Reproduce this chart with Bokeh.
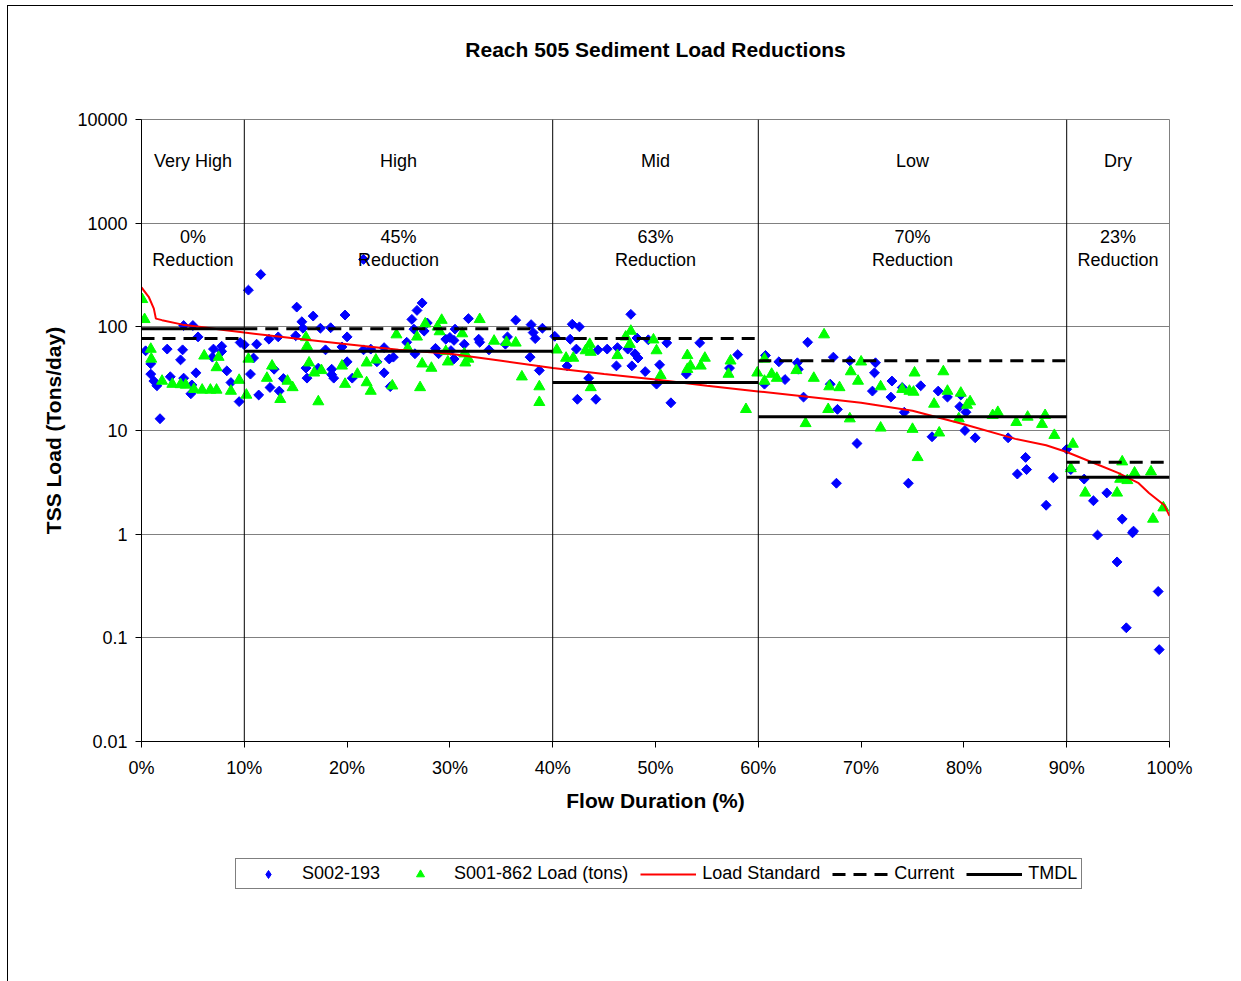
from bokeh.plotting import figure
from bokeh.layouts import column
from bokeh.models import (FixedTicker, Span, Legend, LegendItem, Range1d, CustomJSTickFormatter)
from bokeh.embed import file_html
from bokeh.resources import INLINE
from bokeh.core.properties import value
import math

FONT = "Liberation Sans"

# ---------------- data ----------------
title = "Reach 505 Sediment Load Reductions"
x_label = "Flow Duration (%)"
y_label = "TSS Load (Tons/day)"

x_ticks = [0, 10, 20, 30, 40, 50, 60, 70, 80, 90, 100]
x_tick_labels = ["0%", "10%", "20%", "30%", "40%", "50%", "60%", "70%", "80%", "90%", "100%"]
y_ticks = [0.01, 0.1, 1, 10, 100, 1000, 10000]
y_tick_labels = ["0.01", "0.1", "1", "10", "100", "1000", "10000"]

zone_names = ["Very High", "High", "Mid", "Low", "Dry"]
zone_start = [0, 10, 40, 60, 90]
zone_end = [10, 40, 60, 90, 100]
reductions = [0, 45, 63, 70, 23]
current_load = [77, 96, 77, 47, 4.95]
tmdl_load = [96, 58, 29, 13.6, 3.55]

std_x = [0, 0.7, 1.2, 1.4, 2, 4, 6, 8, 10, 15, 20, 25, 30, 35, 40, 45, 50, 55, 60,
         65, 70, 75, 80, 85, 88, 90, 93, 95, 97, 98, 99.5, 100]
std_y = [240, 195, 150, 120, 116, 105, 99, 93, 88, 77, 68, 60, 55, 47, 40, 35, 31, 27, 23.8,
         21, 18.5, 15.5, 11.5, 8.3, 7.2, 6.2, 4.7, 3.9, 3.1, 2.5, 1.9, 1.5]

s002_x = [0.4, 0.9, 0.9, 1.2, 1.5, 1.8, 2.5, 2.8, 3.8, 4.0, 4.1, 4.1, 4.8, 4.9, 5.0, 5.3, 5.5,
          6.9, 7.0, 7.8, 7.8, 8.3, 8.7, 9.5, 9.6,
          10.0, 10.4, 10.6, 10.9, 11.2, 11.4, 11.6, 12.4, 12.5, 12.9, 13.3, 13.4, 13.8, 15.0,
          15.1, 15.6, 15.7, 16.0, 16.1, 16.7, 17.2, 17.4, 17.9, 18.4, 18.5, 18.5, 18.7, 19.5,
          19.8, 20.0, 20.0, 20.5, 21.6, 21.6, 22.3, 22.9, 23.6, 23.6, 24.1, 24.2, 24.5, 25.8,
          26.3, 26.5, 26.6, 26.8, 27.3, 27.5, 27.8, 28.6, 28.9, 29.6, 30.0, 30.1, 30.4, 30.4,
          30.5, 31.4, 31.8, 32.8, 32.9, 33.8, 35.4, 35.6, 36.4, 37.8, 37.9, 38.1, 38.3, 38.7,
          39.0,
          40.2, 41.4, 41.7, 41.9, 42.3, 42.4, 42.6, 43.5, 44.2, 44.4, 45.3, 46.2, 46.3, 47.3,
          47.6, 47.7, 48.0, 48.2, 48.3, 49.0, 49.3, 50.1, 50.4, 51.1, 51.5, 53.0, 54.3, 57.2,
          58.0,
          60.6, 60.7, 62.0, 62.6, 63.8, 63.9, 64.4, 64.8, 67.0, 67.3, 67.6, 67.7, 68.9, 69.6,
          71.1, 71.3, 71.4, 72.9, 73.0, 74.0, 74.2, 74.6, 75.8, 76.9, 77.5, 78.4, 79.6, 79.7,
          80.1, 80.2, 81.1, 84.3, 85.2, 86.0, 86.1, 88.0, 88.7,
          90.0, 90.4, 91.7, 92.6, 93.0, 93.9, 94.9, 95.4, 95.8, 96.4, 96.5, 98.9, 99.0]
s002_y = [58.7, 44, 35, 30, 27, 13, 61, 33, 48, 60, 103, 32, 22.6, 27.5, 103, 36, 80,
          51, 61, 65, 58, 37.6, 29, 19, 70.6,
          67, 226, 35, 50, 68, 22, 320, 76, 26, 39, 80, 24, 31.7, 82,
          155, 112, 97, 40, 32, 127, 40, 97, 60, 98, 39, 34.6, 32, 64,
          130, 80, 46, 32, 447, 60, 61, 46, 63, 36, 49, 26.5, 51, 71,
          118, 95, 55, 144, 170, 91, 109, 62, 55, 76, 79, 59, 74, 49,
          95, 68, 120, 76, 71, 60, 68, 80, 116, 51, 105, 88, 77, 38,
          97,
          81, 42, 76, 106, 61, 20, 100, 32, 20, 60, 61, 42, 63, 61,
          132, 42, 55, 78, 50, 37, 75, 28, 43, 70, 18.5, 35, 70, 40,
          54,
          28, 53, 46, 31, 45, 39, 21, 71, 28, 51, 3.1, 16, 47, 7.5,
          24, 36, 45, 21, 30, 26, 15, 3.1, 27, 8.7, 24, 21, 17, 22,
          10, 15, 8.5, 8.5, 3.8, 5.5, 4.2, 1.9, 3.5,
          6.6, 4.2, 3.4, 2.1, 0.98, 2.5, 0.54, 1.4, 0.125, 1.03, 1.07, 0.28, 0.077]

s001_x = [0.07, 0.3, 0.9, 0.95, 2.0, 3.0, 3.8, 4.3, 5.1, 5.9, 6.1, 6.7, 7.3, 7.3, 7.5, 8.7, 9.5,
          10.2, 10.4, 12.2, 12.7, 13.5, 14.2, 14.7, 16.0, 16.1, 16.3, 16.8, 17.2, 17.5, 19.5,
          19.8, 21.0, 21.9, 21.9, 22.3, 22.8, 24.4, 24.8, 25.9, 26.8, 27.1, 27.3, 27.6, 28.2,
          28.8, 29.0, 29.2, 29.6, 29.8, 31.2, 31.4, 31.5, 31.8, 32.9, 34.3, 35.5, 36.4, 37.0,
          38.7, 38.7,
          40.4, 41.3, 42.0, 43.2, 43.6, 43.7, 43.7, 46.3, 47.1, 47.5, 47.6, 49.8, 50.1, 50.5,
          53.1, 53.1, 53.4, 54.4, 54.8, 57.1, 57.3, 58.8,
          59.9, 60.6, 60.6, 61.3, 61.8, 63.7, 64.6, 65.4, 66.4, 66.8, 66.9, 67.9, 68.9, 69.0,
          69.7, 70.0, 71.9, 71.9, 74.0, 74.7, 75.0, 75.1, 75.2, 75.5, 77.1, 77.6, 78.0, 78.4,
          79.5, 79.7, 80.3, 80.6, 82.8, 83.3, 85.1, 86.2, 87.6, 87.9, 88.8,
          90.4, 90.6, 91.8, 94.9, 95.2, 95.4, 95.9, 96.6, 98.2, 98.4, 99.4]
s001_y = [184, 118, 61, 49, 30, 28, 27.8, 27.5, 25, 24.6, 52.5, 24.6, 24.6, 40.5, 51, 24, 30.6,
          22, 49, 32, 42, 20, 30, 26, 79, 65, 45, 36, 19, 38, 42,
          28, 35, 45, 29, 24, 48, 27, 84, 62, 80, 26, 44, 107, 40,
          100, 90, 116, 58, 46, 86, 55, 45, 49, 118, 73, 71, 70, 33,
          26.5, 18.7,
          60, 50, 50, 59, 68, 57, 26, 53, 80, 68, 91, 75, 59, 34,
          53, 39, 42, 42, 50, 35, 47, 16,
          36, 49, 30, 35, 32, 38, 11.7, 32, 84, 16, 26.5, 26, 13, 37,
          30, 46, 26.5, 10.6, 25, 24, 10.3, 23.5, 36, 5.5, 18, 9.5, 37, 24,
          13, 23, 17.6, 19, 14, 15, 12, 13.5, 11.5, 14, 9,
          4.3, 7.4, 2.5, 2.5, 3.4, 5.0, 3.3, 3.9, 4.0, 1.4, 1.8]

BLUE, GREEN, RED = "#0000FF", "#00FF00", "#FF0000"

# ---------------- main figure ----------------
p = figure(frame_width=1028, frame_height=622,
           x_range=Range1d(0, 100), y_range=Range1d(0.01, 10000), y_axis_type="log",
           output_backend="svg", toolbar_location=None,
           min_border_left=133, min_border_top=113, min_border_right=64, min_border_bottom=90,
           background_fill_color="white", border_fill_color="white")
p.outline_line_color = "#808080"
p.outline_line_width = 1

p.title.text = title + "\n \n "
p.title.align = "center"
p.title.text_font = FONT
p.title.text_font_size = "21px"
p.title.text_font_style = "bold"
p.title.text_color = "black"
p.title.standoff = 26

# grid
p.xgrid.visible = False
p.ygrid.ticker = FixedTicker(ticks=y_ticks)
p.ygrid.grid_line_color = "#808080"
p.ygrid.grid_line_width = 1

# axes
p.xaxis.ticker = FixedTicker(ticks=x_ticks)
p.xaxis.formatter = CustomJSTickFormatter(code="return tick + '%';")
p.xaxis.major_label_overrides = {t: l for t, l in zip(x_ticks, x_tick_labels)}
p.yaxis.ticker = FixedTicker(ticks=y_ticks)
p.yaxis.formatter = CustomJSTickFormatter(code="return tick.toString();")
p.yaxis.major_label_overrides = {t: l for t, l in zip(y_ticks, y_tick_labels)}
for ax in (p.xaxis, p.yaxis):
    ax.minor_tick_line_color = None
    ax.major_tick_in = 0
    ax.major_tick_out = 6
    ax.major_tick_line_color = "black"
    ax.axis_line_color = "black"
    ax.major_label_text_font = FONT
    ax.major_label_text_font_size = "18px"
    ax.major_label_text_color = "black"
    ax.axis_label_text_font = FONT
    ax.axis_label_text_font_size = "21px"
    ax.axis_label_text_font_style = "bold"
    ax.axis_label_text_color = "black"
p.xaxis.axis_label = x_label
p.yaxis.axis_label = y_label
p.xaxis.major_label_standoff = 10
p.yaxis.major_label_standoff = 8
p.xaxis.axis_label_standoff = 8
p.yaxis.axis_label_standoff = 9

# zone boundaries
for b in zone_start[1:]:
    p.add_layout(Span(location=b, dimension="height", line_color="black", line_width=1))

# series
p.scatter(s002_x, s002_y, marker="square", size=7, angle=math.pi / 4,
          fill_color=BLUE, line_color=BLUE)
p.scatter(s001_x, s001_y, marker="triangle", size=11, fill_color=GREEN, line_color=GREEN)
p.line(std_x, std_y, line_color=RED, line_width=2)
p.segment(x0=zone_start, y0=current_load, x1=zone_end, y1=current_load,
          line_color="black", line_width=3, line_dash="13 8")
p.segment(x0=zone_start, y0=tmdl_load, x1=zone_end, y1=tmdl_load,
          line_color="black", line_width=3)

# zone annotations
zone_mid = [(a + b) / 2 for a, b in zip(zone_start, zone_end)]
txt = dict(text_align="center", text_baseline="middle", text_font=value(FONT),
           text_font_size="18px", text_color="black")
p.text(x=zone_mid, y=4000, text=zone_names, **txt)
p.text(x=zone_mid, y=730, text=[f"{r}%" for r in reductions], **txt)
p.text(x=zone_mid, y=440, text=["Reduction"] * len(zone_mid), **txt)

# ---------------- legend strip (below the chart) ----------------
# Same series, drawn in a strip whose ranges show none of them; only the legend is visible.
q = figure(frame_width=1225, frame_height=150, x_range=Range1d(0, 1), y_range=Range1d(-2, -1),
           output_backend="svg", toolbar_location=None, min_border=0,
           x_axis_location=None, y_axis_location=None,
           background_fill_color="white", border_fill_color="white")
q.outline_line_color = None
q.grid.visible = False
k_blue = q.scatter(s002_x, s002_y, marker="diamond", size=11, fill_color=BLUE, line_color=BLUE)
k_green = q.scatter(s001_x, s001_y, marker="triangle", size=9, fill_color=GREEN, line_color=GREEN)
k_std = q.line(std_x, std_y, line_color=RED, line_width=2)
k_cur = q.segment(x0=zone_start, y0=current_load, x1=zone_end, y1=current_load,
                  line_color="black", line_width=3, line_dash="13 8")
k_tmdl = q.segment(x0=zone_start, y0=tmdl_load, x1=zone_end, y1=tmdl_load,
                   line_color="black", line_width=3)

legend = Legend(items=[
    LegendItem(label="S002-193", renderers=[k_blue]),
    LegendItem(label="S001-862 Load (tons)", renderers=[k_green]),
    LegendItem(label="Load Standard", renderers=[k_std]),
    LegendItem(label="Current", renderers=[k_cur]),
    LegendItem(label="TMDL", renderers=[k_tmdl]),
], orientation="horizontal", location=(227, 92), margin=0, padding=4, spacing=12,
    glyph_width=56, glyph_height=20, label_standoff=6, label_height=20,
    label_text_font=FONT, label_text_font_size="18px", label_text_color="black",
    border_line_color="black", border_line_width=1, background_fill_color="white",
    background_fill_alpha=1)
q.add_layout(legend)

page = column(p, q, spacing=0)
page.styles = {"border-left": "1px solid black", "border-top": "1px solid black",
               "margin-left": "7px", "margin-top": "5px"}

open("out.html", "w").write(file_html(page, INLINE))
